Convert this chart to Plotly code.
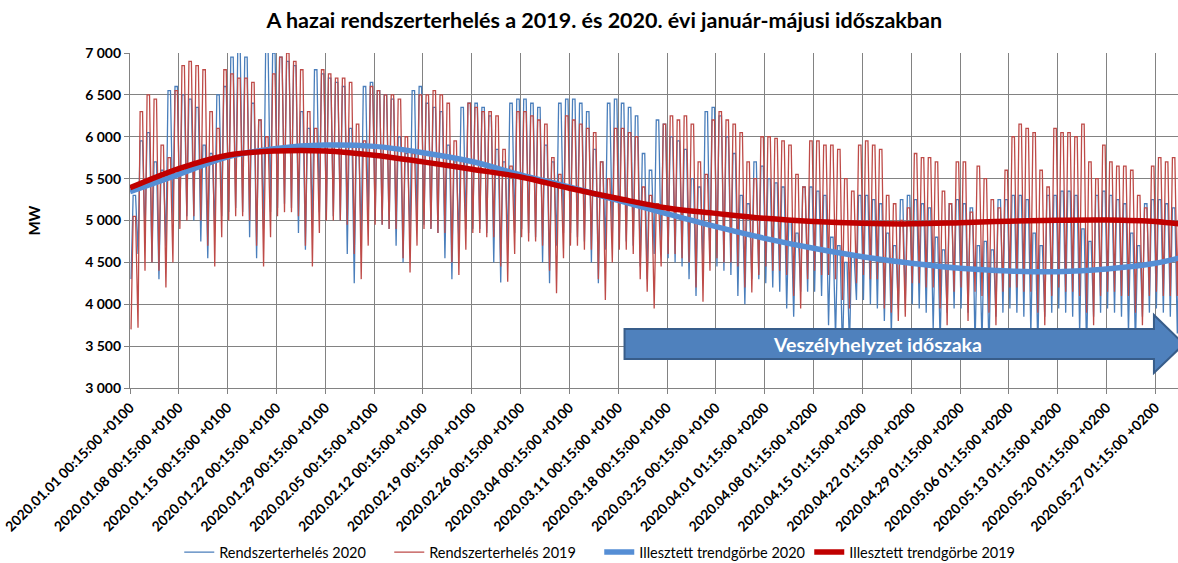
import plotly.graph_objects as go

# ---------------- data ----------------
tick_labels = [
    "2020.01.01 00:15:00 +0100", "2020.01.08 00:15:00 +0100", "2020.01.15 00:15:00 +0100",
    "2020.01.22 00:15:00 +0100", "2020.01.29 00:15:00 +0100", "2020.02.05 00:15:00 +0100",
    "2020.02.12 00:15:00 +0100", "2020.02.19 00:15:00 +0100", "2020.02.26 00:15:00 +0100",
    "2020.03.04 00:15:00 +0100", "2020.03.11 00:15:00 +0100", "2020.03.18 00:15:00 +0100",
    "2020.03.25 00:15:00 +0100", "2020.04.01 01:15:00 +0200", "2020.04.08 01:15:00 +0200",
    "2020.04.15 01:15:00 +0200", "2020.04.22 01:15:00 +0200", "2020.04.29 01:15:00 +0200",
    "2020.05.06 01:15:00 +0200", "2020.05.13 01:15:00 +0200", "2020.05.20 01:15:00 +0200",
    "2020.05.27 01:15:00 +0200",
]

# daily peak / trough of the system load, MW (day index 0 = 01.01)
max_2020 = [
    5300, 5950, 6050, 5700, 5600, 6550, 6600,
    6500, 6450, 6350, 5900, 5800, 6500, 6600,
    6950, 7050, 6950, 6400, 6200, 7050, 7000,
    6950, 6900, 6850, 6300, 6100, 6800, 6750,
    6700, 6650, 6600, 6100, 5900, 6600, 6650,
    6550, 6500, 6450, 6000, 5800, 6550, 6600,
    6400, 6350, 6300, 5900, 5700, 6350, 6400,
    6400, 6350, 6250, 5850, 5700, 6400, 6450,
    6450, 6400, 6350, 5900, 5700, 6400, 6450,
    6450, 6400, 6300, 5850, 5700, 6400, 6450,
    6400, 6350, 6250, 5800, 5600, 6200, 6150,
    6000, 5950, 5850, 5500, 5400, 6300, 6350,
    6250, 6000, 5800, 5300, 5200, 5700, 5650,
    5500, 5450, 5400, 5000, 4850, 5400, 5400,
    5350, 5300, 4800, 4700, 4500, 4600, 5300,
    5300, 5250, 5200, 4850, 4700, 5250, 5300,
    5250, 5200, 5150, 4800, 4650, 5200, 5250,
    5200, 5150, 4700, 4750, 4650, 5250, 5250,
    5300, 5300, 5250, 4850, 4700, 5300, 5300,
    5350, 5350, 5300, 4900, 4750, 5300, 5350,
    5300, 5250, 5200, 4850, 4700, 5200, 5250,
    5250, 5200, 5150, 4850, 4700,
]
min_2020 = [
    4300, 4600, 4800, 4500, 4300, 4700, 5000,
    5000, 5050, 5000, 4750, 4550, 4900, 5050,
    5100, 5150, 5100, 4800, 4550, 4900, 5100,
    5150, 5200, 5150, 4850, 4650, 4950, 5100,
    5100, 5050, 5000, 4600, 4250, 4800, 5000,
    5000, 4950, 4900, 4700, 4500, 4800, 4950,
    4950, 4900, 4850, 4550, 4300, 4750, 4900,
    4900, 4900, 4850, 4500, 4260, 4700, 4850,
    4900, 4850, 4800, 4500, 4250, 4700, 4850,
    4850, 4800, 4750, 4500, 4250, 4650, 4800,
    4800, 4750, 4700, 4450, 4300, 4600, 4600,
    4550, 4500, 4450, 4300, 4100, 4450, 4500,
    4450, 4400, 4350, 4100, 4000, 4300, 4300,
    4250, 4200, 4150, 3950, 3850, 4150, 4150,
    4150, 4100, 3750, 3600, 3400, 3500, 4050,
    4050, 4000, 3950, 3800, 3650, 3950, 4000,
    4000, 3950, 3900, 3700, 3550, 3900, 3950,
    3950, 3900, 3500, 3550, 3450, 3850, 3900,
    3950, 3900, 3850, 3650, 3500, 3850, 3900,
    3950, 3900, 3850, 3650, 3450, 3850, 3900,
    3950, 3900, 3850, 3650, 3500, 3850, 3900,
    3950, 3900, 3850, 3650, 3500,
]
max_2019 = [
    5050, 6300, 6500, 6450, 5900, 5750, 6550,
    6850, 6900, 6850, 6800, 6300, 6100, 6800,
    6750, 6700, 6700, 6650, 6200, 6000, 6750,
    6950, 7000, 6900, 6800, 6300, 6100, 6800,
    6750, 6700, 6700, 6650, 6150, 5950, 6600,
    6550, 6500, 6500, 6450, 6000, 5800, 6500,
    6500, 6550, 6500, 6400, 5950, 5750, 6400,
    6350, 6300, 6300, 6250, 5850, 5650, 6300,
    6300, 6250, 6200, 6150, 5750, 5550, 6250,
    6200, 6150, 6100, 6050, 5700, 5500, 6100,
    6100, 6050, 6000, 5400, 5300, 5200, 6150,
    6250, 6200, 6250, 6150, 5700, 5550, 6200,
    6300, 6200, 6150, 6050, 5700, 5500, 6000,
    6000, 5980, 5950, 5900, 5550, 5400, 5950,
    5950, 5900, 5900, 5850, 5500, 5350, 5900,
    5950, 5900, 5850, 5300, 5200, 5000, 5150,
    5800, 5750, 5750, 5700, 5350, 5200, 5700,
    5700, 5100, 5650, 5500, 5250, 5150, 5600,
    6000, 6150, 6100, 6050, 5600, 5400, 6100,
    6050, 6050, 6000, 6150, 5700, 5500, 5900,
    5700, 5650, 5650, 5600, 5300, 5150, 5650,
    5750, 5700, 5750, 5650, 5300,
]
min_2019 = [
    3700, 3720, 4400, 4500, 4400, 4200, 4500,
    4900, 5000, 5050, 5000, 4700, 4450, 4800,
    5000, 5050, 5050, 5000, 4700, 4450, 4800,
    5050, 5100, 5100, 5050, 4700, 4450, 4850,
    5000, 5000, 5000, 4950, 4600, 4300, 4700,
    4950, 4950, 4900, 4900, 4550, 4380, 4700,
    4900, 4900, 4850, 4850, 4500, 4350, 4650,
    4850, 4850, 4800, 4800, 4450, 4270, 4600,
    4800, 4750, 4750, 4700, 4400, 4130, 4550,
    4700, 4700, 4650, 4650, 4300, 4050, 4500,
    4650, 4650, 4600, 4300, 4150, 3950, 4450,
    4600, 4600, 4550, 4500, 4200, 4030, 4400,
    4550, 4500, 4500, 4450, 4200, 4140, 4350,
    4450, 4400, 4400, 4350, 4100, 3950, 4300,
    4400, 4350, 4350, 4300, 4050, 3950, 4250,
    4350, 4300, 4300, 3950, 3900, 3800, 3850,
    4250, 4250, 4200, 4200, 3950, 3750, 4150,
    4200, 3800, 4150, 4100, 3900, 3750, 4150,
    4200, 4200, 4150, 4150, 3900, 3750, 4100,
    4200, 4150, 4150, 4100, 3900, 3750, 4100,
    4150, 4150, 4100, 4100, 3900, 3750, 4100,
    4150, 4100, 4100, 4100, 3850,
]

# fitted trend curves, sampled weekly (day index)
trend_days = [0, 7, 14, 21, 28, 35, 42, 49, 56, 63, 70, 77, 84, 91, 98, 105,
              112, 119, 126, 133, 140, 147, 151]
trend_2020 = [5345, 5550, 5760, 5860, 5900, 5885, 5810, 5705, 5545, 5400, 5240, 5080,
              4926, 4787, 4668, 4568, 4489, 4429, 4397, 4389, 4421, 4489, 4565]
trend_2019 = [5390, 5620, 5780, 5830, 5830, 5780, 5700, 5612, 5520, 5385, 5262, 5150,
              5085, 5026, 4988, 4966, 4960, 4974, 4992, 5002, 5005, 4988, 4952]

ytick_vals = [3000, 3500, 4000, 4500, 5000, 5500, 6000, 6500, 7000]
ytick_text = ["3 000", "3 500", "4 000", "4 500", "5 000", "5 500", "6 000", "6 500", "7 000"]


def daily_profile(mins, maxs):
    xs, ys = [], []
    for d, (lo, hi) in enumerate(zip(mins, maxs)):
        xs += [d + 0.15, d + 0.45, d + 0.8]
        ys += [lo, hi, hi]
    return xs, ys


FONT = "Lato"
GRID = "#828282"

x20, y20 = daily_profile(min_2020, max_2020)
x19, y19 = daily_profile(min_2019, max_2019)

fig = go.Figure()
fig.add_trace(go.Scatter(x=x20, y=y20, mode="lines", name="Rendszerterhelés 2020",
                         line=dict(color="#4A7EBB", width=1.3)))
fig.add_trace(go.Scatter(x=x19, y=y19, mode="lines", name="Rendszerterhelés 2019",
                         line=dict(color="#BE4B48", width=1.3)))
fig.add_trace(go.Scatter(x=trend_days, y=trend_2020, mode="lines", name="Illesztett trendgörbe 2020",
                         line=dict(color="#558ED5", width=5.5, shape="spline")))
fig.add_trace(go.Scatter(x=trend_days, y=trend_2019, mode="lines", name="Illesztett trendgörbe 2019",
                         line=dict(color="#C00000", width=5.5, shape="spline")))

# arrow "Veszélyhelyzet időszaka"
fig.add_shape(type="path", xref="x", yref="y", layer="above",
              path="M 70.9,3704 L 146.8,3704 L 146.8,3872 L 151.1,3525 L 146.8,3179 L 146.8,3346 L 70.9,3346 Z",
              fillcolor="#4F81BD", line=dict(color="#385D8A", width=2))
fig.add_annotation(x=107.2, y=3525, xref="x", yref="y", text="<b>Veszélyhelyzet időszaka</b>",
                   showarrow=False, font=dict(family=FONT, size=19.5, color="white"))

fig.add_annotation(x=-0.103, y=0.5, xref="paper", yref="paper", text="<b>MW</b>", textangle=-90,
                   showarrow=False, font=dict(family=FONT, size=15, color="black"))

fig.update_layout(
    width=1178, height=563,
    margin=dict(l=130, r=0, t=53, b=175, autoexpand=False),
    paper_bgcolor="white", plot_bgcolor="white",
    font=dict(family=FONT, color="black"),
    title=dict(text="<b>A hazai rendszerterhelés a 2019. és 2020. évi január-májusi időszakban</b>",
               x=0.513, xref="container", xanchor="center", y=0.964, yanchor="middle",
               font=dict(family=FONT, size=21.5, color="black")),
    showlegend=True,
    legend=dict(orientation="h", x=0.047, xanchor="left", y=-0.49, yanchor="middle",
                font=dict(family=FONT, size=14.5, color="black"),
                entrywidth=165, entrywidthmode="pixels", itemwidth=30,
                bgcolor="rgba(0,0,0,0)"),
)
fig.update_xaxes(range=[0, 150.25], tickmode="array",
                 tickvals=[7 * i for i in range(len(tick_labels))], ticktext=tick_labels,
                 tickangle=-45, tickfont=dict(family=FONT, size=14, color="black", weight="bold"),
                 showgrid=True, gridcolor=GRID, gridwidth=1.2,
                 showline=True, linecolor=GRID, linewidth=1.2,
                 ticks="outside", ticklen=5, tickcolor=GRID, zeroline=False)
fig.update_yaxes(range=[3000, 7000], tickmode="array", tickvals=ytick_vals, ticktext=ytick_text,
                 tickfont=dict(family=FONT, size=14, color="black", weight="bold"),
                 showgrid=True, gridcolor=GRID, gridwidth=1.2,
                 showline=True, linecolor=GRID, linewidth=1.2,
                 ticks="outside", ticklen=5, tickcolor=GRID, zeroline=False)

fig.write_html("out.html", config={"displayModeBar": False},
               post_script="document.body.style.margin='0';document.body.style.overflow='hidden';")
